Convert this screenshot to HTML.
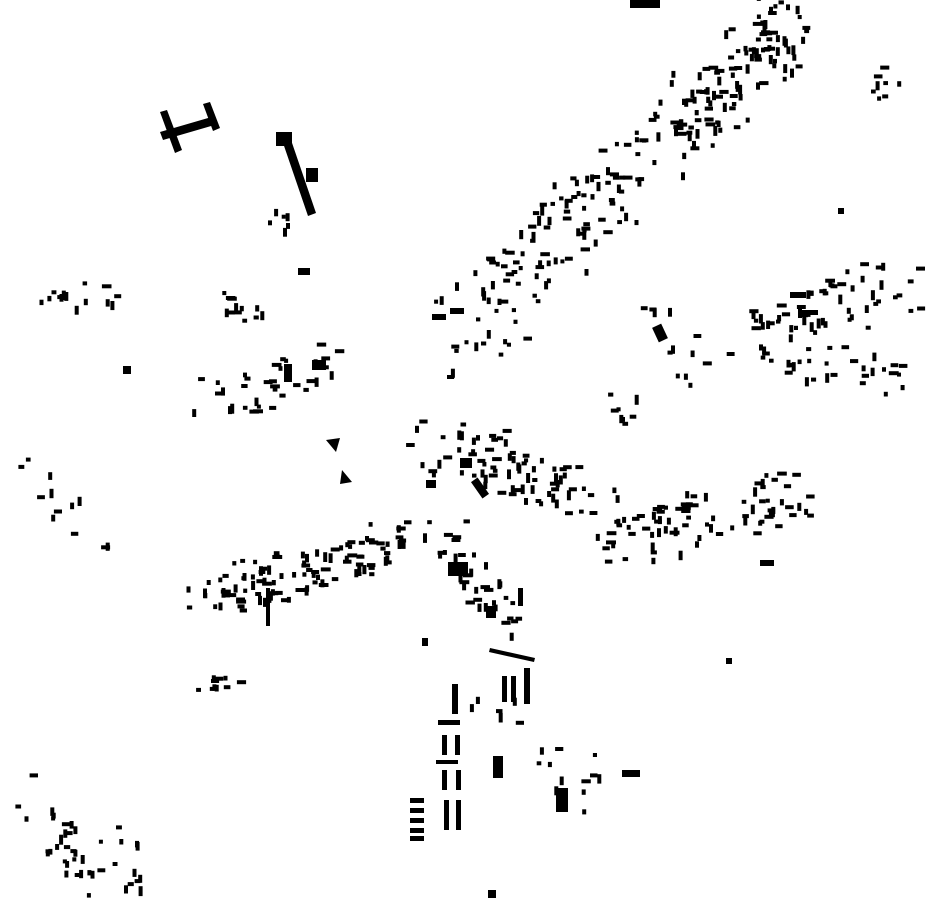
<!DOCTYPE html>
<html><head><meta charset="utf-8"><style>html,body{margin:0;padding:0;background:#fff;width:930px;height:924px;overflow:hidden}</style></head>
<body>
<svg id="s" width="930" height="924" xmlns="http://www.w3.org/2000/svg">
<rect x="0" y="0" width="930" height="924" fill="#fff"/>
<g fill="#000">
<rect x="630" y="0" width="30" height="8"/>
<polygon points="160,132 215,116 218,124 163,140"/>
<polygon points="160,112 167,110 182,150 175,153"/>
<polygon points="203,104 210,102 220,128 213,131"/>
<polygon points="282,140 290,137 316,213 308,216"/>
<rect x="276" y="132" width="16" height="14"/>
<rect x="306" y="168" width="12" height="14"/>
<rect x="298" y="268" width="12" height="7"/>
<rect x="312" y="360" width="14" height="10"/>
<rect x="284" y="364" width="8" height="18"/>
<polygon points="326,440 340,438 336,452"/>
<polygon points="342,470 352,482 340,484"/>
<rect x="448" y="562" width="20" height="14"/>
<rect x="476" y="478" width="8" height="20" transform="rotate(-35 480 488)"/>
<rect x="655" y="325" width="10" height="16" transform="rotate(-25 660 333)"/>
<polygon points="490,648 535,658 534,662 489,652"/>
<rect x="438" y="720" width="22" height="5"/>
<rect x="452" y="684" width="6" height="30"/>
<rect x="442" y="735" width="5" height="20"/><rect x="455" y="735" width="5" height="20"/>
<rect x="436" y="760" width="22" height="4"/>
<rect x="442" y="770" width="5" height="20"/><rect x="456" y="770" width="5" height="20"/>
<rect x="444" y="800" width="5" height="30"/><rect x="456" y="800" width="5" height="30"/>
<rect x="410" y="798" width="14" height="5"/><rect x="410" y="808" width="14" height="5"/><rect x="410" y="818" width="14" height="5"/><rect x="410" y="828" width="14" height="5"/><rect x="410" y="836" width="14" height="5"/>
<rect x="493" y="756" width="10" height="22"/>
<rect x="556" y="788" width="12" height="24"/>
<rect x="622" y="770" width="18" height="7"/>
<rect x="502" y="676" width="5" height="26"/><rect x="511" y="676" width="5" height="26"/><rect x="524" y="668" width="6" height="36"/>
<rect x="790" y="292" width="16" height="6"/><rect x="800" y="310" width="18" height="5"/>
<rect x="432" y="314" width="14" height="6"/><rect x="450" y="308" width="14" height="6"/>
<rect x="760" y="560" width="14" height="6"/>
<rect x="460" y="458" width="12" height="10"/>
<rect x="426" y="480" width="10" height="8"/>
<rect x="486" y="606" width="10" height="12"/>
<rect x="518" y="588" width="5" height="18"/>
<rect x="266" y="588" width="4" height="38"/>
<rect x="123" y="366" width="8" height="8"/>
<rect x="838" y="208" width="6" height="6"/>
<rect x="726" y="658" width="6" height="6"/>
<rect x="422" y="638" width="6" height="8"/>
<rect x="488" y="890" width="8" height="8"/>
</g>
<g id="d" fill="#000"></g>
</svg>
<script>
var seed=12345;function r(){seed=(seed*16807)%2147483647;return (seed-1)/2147483646;}
var g=document.getElementById('d'),h='';
function cl(x0,y0,x1,y1,w,n){for(var i=0;i<n;i++){var t=r();var cx=x0+(x1-x0)*t+(r()-0.5)*w;var cy=y0+(y1-y0)*t+(r()-0.5)*w;var a=r()<0.5;var ww=a?4+r()*6:4,hh=a?4:4+r()*6;h+='<rect x="'+cx.toFixed(1)+'" y="'+cy.toFixed(1)+'" width="'+ww.toFixed(1)+'" height="'+hh.toFixed(1)+'"/>';}}
cl(450,340,780,20,75,190);
cl(690,140,790,20,50,50);
cl(750,330,900,280,55,60);
cl(760,350,890,375,40,30);
cl(430,440,600,500,60,80);
cl(610,540,800,490,55,80);
cl(200,600,420,530,45,110);
cl(440,520,500,620,40,35);
cl(200,400,330,360,50,35);
cl(220,300,262,315,20,12);
cl(50,290,115,300,25,14);
cl(30,470,90,540,60,12);
cl(30,790,90,880,40,30);
cl(110,820,140,900,30,12);
cl(540,760,600,780,60,14);
cl(610,390,640,420,30,8);
cl(480,700,530,720,30,6);
cl(850,80,895,100,40,8);
cl(200,680,245,690,25,10);
cl(270,200,290,230,20,6);
cl(640,290,700,380,40,12);
g.innerHTML=h;
</script>
</body></html>
